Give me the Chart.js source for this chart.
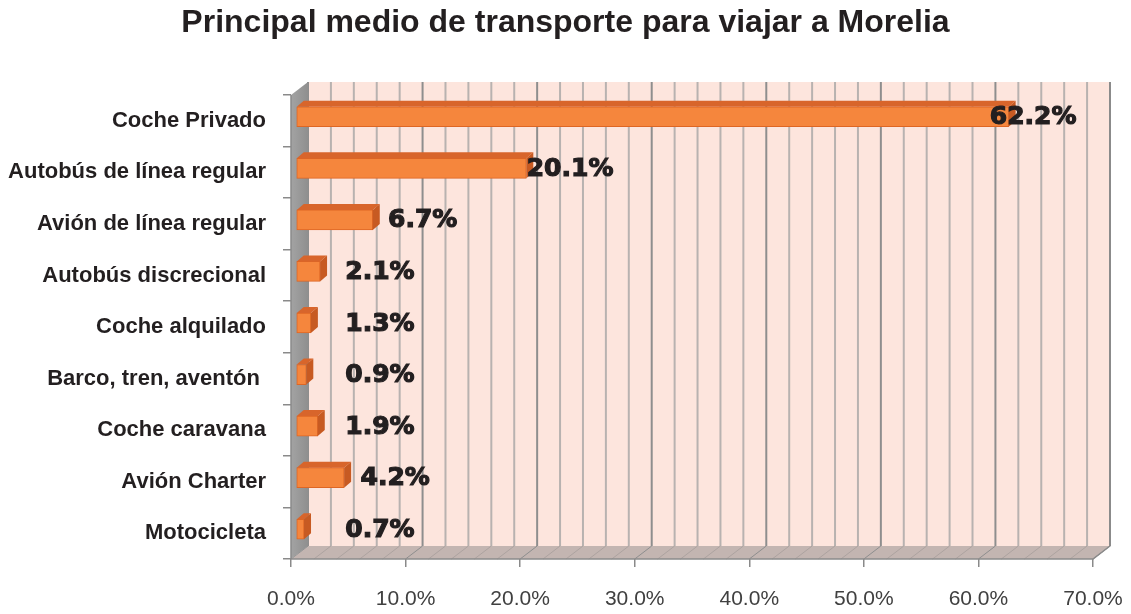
<!DOCTYPE html>
<html>
<head>
<meta charset="utf-8">
<script src="https://cdn.jsdelivr.net/npm/chart.js@4.4.1/dist/chart.umd.min.js"></script>
<style>
  html, body { margin: 0; padding: 0; background: #fff; }
</style>
</head>
<body>
<canvas id="myChart" width="1131" height="614"></canvas>
<script>
// Data
const categories = [
  'Coche Privado',
  'Autobús de línea regular',
  'Avión de línea regular',
  'Autobús discrecional',
  'Coche alquilado',
  'Barco, tren, aventón ',
  'Coche caravana',
  'Avión Charter',
  'Motocicleta'
];
const values = [62.2, 20.1, 6.7, 2.1, 1.3, 0.9, 1.9, 4.2, 0.7];
const tickLabels = ['0.0%', '10.0%', '20.0%', '30.0%', '40.0%', '50.0%', '60.0%', '70.0%'];
const chartTitle = 'Principal medio de transporte para viajar a Morelia';

const labelFamily = '"Liberation Sans", Arial, sans-serif';
const titleSize = 32;

// 3D look
const DX = 17, DY = -13;        // wall depth
const BX = 5, BY = -4;          // bar shift from the front plane
const BDX = 7, BDY = -6;        // bar depth

function poly(ctx, pts) {
  ctx.beginPath();
  ctx.moveTo(pts[0][0], pts[0][1]);
  for (let i = 1; i < pts.length; i++) ctx.lineTo(pts[i][0], pts[i][1]);
  ctx.closePath();
}

const walls3d = {
  id: 'walls3d',
  beforeDatasetsDraw(chart) {
    const { ctx, chartArea: a, scales: { x } } = chart;
    ctx.save();
    // back wall
    ctx.fillStyle = '#fde5dd';
    ctx.fillRect(a.left + DX, a.top + DY, a.width, a.height);
    // floor
    ctx.fillStyle = '#c3b5b1';
    poly(ctx, [[a.left, a.bottom], [a.left + DX, a.bottom + DY], [a.right + DX, a.bottom + DY], [a.right, a.bottom]]);
    ctx.fill();
    // gridlines every 2%
    for (let v = 0; v <= 70; v += 2) {
      const px = x.getPixelForValue(v) + DX;
      const major = v % 10 === 0;
      ctx.strokeStyle = major ? '#8e8e8e' : '#b8b2b0';
      ctx.lineWidth = 2;
      ctx.beginPath();
      ctx.moveTo(px, a.top + DY);
      ctx.lineTo(px, a.bottom + DY);
      ctx.stroke();
      ctx.strokeStyle = major ? '#8e8e8e' : '#ada3a0';
      ctx.lineWidth = 1;
      ctx.beginPath();
      ctx.moveTo(px, a.bottom + DY);
      ctx.lineTo(px - DX, a.bottom);
      ctx.stroke();
    }
    // left wall
    const g = ctx.createLinearGradient(a.left, 0, a.left + DX, 0);
    g.addColorStop(0, '#a3a3a3');
    g.addColorStop(1, '#8f8f8f');
    ctx.fillStyle = g;
    poly(ctx, [[a.left, a.top], [a.left + DX, a.top + DY], [a.left + DX, a.bottom + DY], [a.left, a.bottom]]);
    ctx.fill();
    // edges
    ctx.strokeStyle = '#8a8a8a';
    ctx.lineWidth = 1.5;
    ctx.beginPath();
    ctx.moveTo(a.left, a.top);
    ctx.lineTo(a.left, a.bottom);
    ctx.lineTo(a.right, a.bottom);
    ctx.lineTo(a.right + DX, a.bottom + DY);
    ctx.lineTo(a.right + DX, a.top + DY);
    ctx.stroke();
    ctx.restore();
    // bars are drawn a bit behind the front plane
    ctx.save();
    ctx.translate(BX, BY);
  },
  afterDatasetsDraw(chart) {
    const { ctx, scales: { x } } = chart;
    const meta = chart.getDatasetMeta(0);
    meta.data.forEach(bar => {
      const { x: end, y, base, height } = bar.getProps(['x', 'y', 'base', 'height'], true);
      const top = y - height / 2, bot = y + height / 2;
      ctx.fillStyle = '#d8652b';
      poly(ctx, [[base, top], [base + BDX, top + BDY], [end + BDX, top + BDY], [end, top]]);
      ctx.fill();
      ctx.fillStyle = '#c75a22';
      poly(ctx, [[end, top], [end + BDX, top + BDY], [end + BDX, bot + BDY], [end, bot]]);
      ctx.fill();
    });
    ctx.restore();

    // value labels (placed like the 3D labels of the original)
    ctx.save();
    ctx.font = 'bold 25px "DejaVu Sans", sans-serif';
    ctx.fillStyle = '#231f20';
    ctx.strokeStyle = '#231f20';
    ctx.lineWidth = 1.2;
    ctx.textAlign = 'center';
    ctx.textBaseline = 'middle';
    const minX = x.getPixelForValue(0) + 89;
    meta.data.forEach((bar, i) => {
      const cx = Math.max(x.getPixelForValue(values[i] * 0.96) + 58, minX);
      const txt = values[i].toFixed(1) + '%';
      ctx.fillText(txt, cx, bar.y + BY + 1);
      ctx.strokeText(txt, cx, bar.y + BY + 1);
    });
    ctx.restore();
  }
};

const ctx = document.getElementById('myChart').getContext('2d');
const myChart = new Chart(ctx, {
  type: 'bar',
  data: {
    labels: categories,
    datasets: [{
      data: values,
      backgroundColor: '#f5863d',
      borderColor: '#de6624',
      borderWidth: 1,
      borderSkipped: false,
      barThickness: 20
    }]
  },
  options: {
    indexAxis: 'y',
    responsive: false,
    animation: false,
    layout: { padding: 0 },
    scales: {
      x: {
        min: 0,
        max: 70,
        ticks: {
          stepSize: 10,
          callback: (v, i) => tickLabels[i],
          color: '#404040',
          font: { family: labelFamily, size: 21 },
          padding: 20,
          maxRotation: 0
        },
        grid: { drawOnChartArea: false, tickLength: 8, color: '#8a8a8a', lineWidth: 1.5 },
        border: { display: false },
        afterFit(s) { s.height = 55; s.paddingLeft = 0; s.paddingRight = 38; }
      },
      y: {
        ticks: {
          color: '#231f20',
          font: { family: labelFamily, size: 22, weight: 'bold' },
          padding: 17
        },
        grid: { drawOnChartArea: false, tickLength: 8, color: '#8a8a8a', lineWidth: 1.5, offset: true },
        border: { display: false },
        afterFit(s) { s.width = 291; s.paddingTop = 0; s.paddingBottom = 0; }
      }
    },
    plugins: {
      legend: { display: false },
      tooltip: { enabled: false },
      title: {
        display: true,
        text: chartTitle,
        color: '#231f20',
        font: { family: labelFamily, size: titleSize, weight: 'bold' },
        padding: { top: 4, bottom: 95 - 4 - titleSize * 1.2 }
      }
    }
  },
  plugins: [walls3d]
});
</script>
</body>
</html>
